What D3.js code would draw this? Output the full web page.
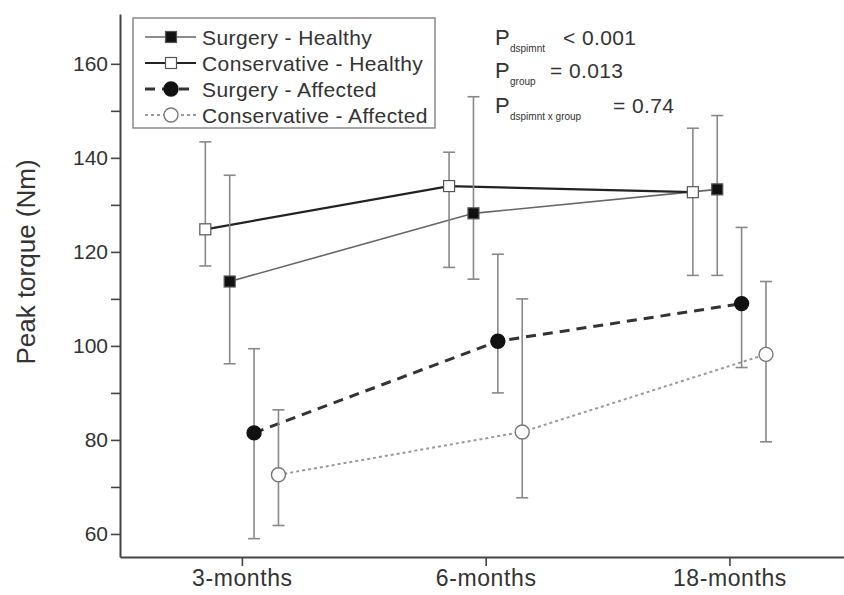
<!DOCTYPE html>
<html lang="en">
<head>
<meta charset="utf-8">
<script src="https://d3js.org/d3.v7.min.js"></script>
<style>
body { margin: 0; background: #fff; }
text { font-family: "Liberation Sans", Arial, sans-serif; fill: #333; }
</style>
</head>
<body>
<svg width="844" height="595"></svg>
<script>

// time points and the four groups (mean, lower, upper of the error bar)
var timepoints = ["3-months", "6-months", "18-months"];
var seriesNames = ["Surgery - Healthy", "Conservative - Healthy", "Surgery - Affected", "Conservative - Affected"];

var surgeryHealthy      = [113.7, 128.2, 133.3];
var surgeryHealthyLo    = [96.2, 114.2, 115];
var surgeryHealthyHi    = [136.3, 153, 149];

var conservHealthy      = [124.8, 134, 132.7];
var conservHealthyLo    = [117, 116.7, 115];
var conservHealthyHi    = [143.4, 141.2, 146.3];

var surgeryAffected     = [81.5, 101, 109];
var surgeryAffectedLo   = [59, 90, 95.4];
var surgeryAffectedHi   = [99.4, 119.5, 125.2];

var conservAffected     = [72.6, 81.7, 98.2];
var conservAffectedLo   = [61.8, 67.7, 79.6];
var conservAffectedHi   = [86.4, 110, 113.7];

var yTicks = [60, 70, 80, 90, 100, 110, 120, 130, 140, 150, 160];

var svg = d3.select("svg");

var x = d3.scaleLinear().domain([0.5, 3.47]).range([120, 844]);
var y = d3.scaleLinear().domain([55.1, 170.6]).range([557, 14]);

// series styles: offset along x, line style, marker
var series = [
  { name: seriesNames[0], v: surgeryHealthy, lo: surgeryHealthyLo, hi: surgeryHealthyHi,
    dx: -0.05, stroke: "#666", width: 1.6, dash: null, marker: "square", fill: "#111" },
  { name: seriesNames[1], v: conservHealthy, lo: conservHealthyLo, hi: conservHealthyHi,
    dx: -0.15, stroke: "#222", width: 2.2, dash: null, marker: "square", fill: "#fff" },
  { name: seriesNames[2], v: surgeryAffected, lo: surgeryAffectedLo, hi: surgeryAffectedHi,
    dx: 0.05, stroke: "#333", width: 3, dash: "10,7", marker: "circle", fill: "#111" },
  { name: seriesNames[3], v: conservAffected, lo: conservAffectedLo, hi: conservAffectedHi,
    dx: 0.15, stroke: "#999", width: 2, dash: "3,3", marker: "circle", fill: "#fff" }
];

// axes
var yAxis = d3.axisLeft(y)
    .tickValues(yTicks)
    .tickSize(9)
    .tickSizeOuter(0)
    .tickFormat(function(d) { return d % 20 === 0 ? d : ""; });

var xAxis = d3.axisBottom(x)
    .tickValues([1, 2, 3])
    .tickSize(9)
    .tickSizeOuter(0)
    .tickFormat(function(d) { return timepoints[d - 1]; });

var gy = svg.append("g").attr("transform", "translate(120,0)").call(yAxis);
var gx = svg.append("g").attr("transform", "translate(0,557)").call(xAxis);

[gy, gx].forEach(function(g) {
  g.select(".domain").attr("stroke", "#444").attr("stroke-width", 2);
  g.selectAll(".tick line").attr("stroke", "#444").attr("stroke-width", 1.6);
  g.selectAll(".tick text").attr("fill", "#333");
});
gy.selectAll(".tick text").style("font-size", "21px").attr("x", -12);
gx.selectAll(".tick text")
    .style("font-size", "23px")
    .style("letter-spacing", "0.6px")
    .attr("y", 11)
    .attr("dy", "0.78em");

svg.append("text")
    .attr("transform", "translate(35,262) rotate(-90)")
    .attr("text-anchor", "middle")
    .style("font-size", "26px")
    .text("Peak torque (Nm)");

// lines
var line = d3.line();
series.forEach(function(s) {
  var pts = s.v.map(function(v, i) { return [x(i + 1 + s.dx), y(v)]; });
  svg.append("path")
      .attr("d", line(pts))
      .attr("fill", "none")
      .attr("stroke", s.stroke)
      .attr("stroke-width", s.width)
      .attr("stroke-dasharray", s.dash);
});

// error bars
series.forEach(function(s) {
  s.v.forEach(function(v, i) {
    var cx = x(i + 1 + s.dx);
    var g = svg.append("g").attr("stroke", "#888").attr("stroke-width", 1.6);
    g.append("line").attr("x1", cx).attr("x2", cx).attr("y1", y(s.lo[i])).attr("y2", y(s.hi[i]));
    g.append("line").attr("x1", cx - 6).attr("x2", cx + 6).attr("y1", y(s.lo[i])).attr("y2", y(s.lo[i]));
    g.append("line").attr("x1", cx - 6).attr("x2", cx + 6).attr("y1", y(s.hi[i])).attr("y2", y(s.hi[i]));
  });
});

function drawMarker(g, s, cx, cy) {
  if (s.marker === "square") {
    g.append("rect")
        .attr("x", cx - 5.5).attr("y", cy - 5.5)
        .attr("width", 11).attr("height", 11)
        .attr("fill", s.fill).attr("stroke", "#555").attr("stroke-width", 1.2);
  } else {
    g.append("circle")
        .attr("cx", cx).attr("cy", cy).attr("r", 7)
        .attr("fill", s.fill).attr("stroke", s.fill === "#fff" ? "#777" : "#111").attr("stroke-width", 1.4);
  }
}

// markers
series.forEach(function(s) {
  s.v.forEach(function(v, i) {
    drawMarker(svg, s, x(i + 1 + s.dx), y(v));
  });
});

// legend
var legend = svg.append("g");
legend.append("rect")
    .attr("x", 133).attr("y", 18)
    .attr("width", 302).attr("height", 110)
    .attr("fill", "#fff").attr("stroke", "#888").attr("stroke-width", 1.5);

series.forEach(function(s, i) {
  var ly = 37 + i * 26;
  legend.append("line")
      .attr("x1", 145).attr("x2", 196).attr("y1", ly).attr("y2", ly)
      .attr("stroke", s.stroke).attr("stroke-width", s.width)
      .attr("stroke-dasharray", s.dash);
  drawMarker(legend, s, 171, ly);
  legend.append("text")
      .attr("x", 202).attr("y", ly).attr("dy", "0.36em")
      .style("font-size", "21px")
      .style("letter-spacing", "0.4px")
      .text(s.name);
});

// p-values
var pvals = [
  { sub: "dspimnt", rest: "< 0.001", y: 45, rx: 563 },
  { sub: "group", rest: "= 0.013", y: 78, rx: 550 },
  { sub: "dspimnt x group", rest: "= 0.74", y: 113, rx: 613 }
];
pvals.forEach(function(p) {
  svg.append("text").attr("x", 495).attr("y", p.y).style("font-size", "22px").text("P");
  svg.append("text").attr("x", 510).attr("y", p.y + 7).style("font-size", "10px").text(p.sub);
  svg.append("text").attr("x", p.rx).attr("y", p.y).style("font-size", "21px").style("letter-spacing", "0.4px").text(p.rest);
});

</script>
</body>
</html>
